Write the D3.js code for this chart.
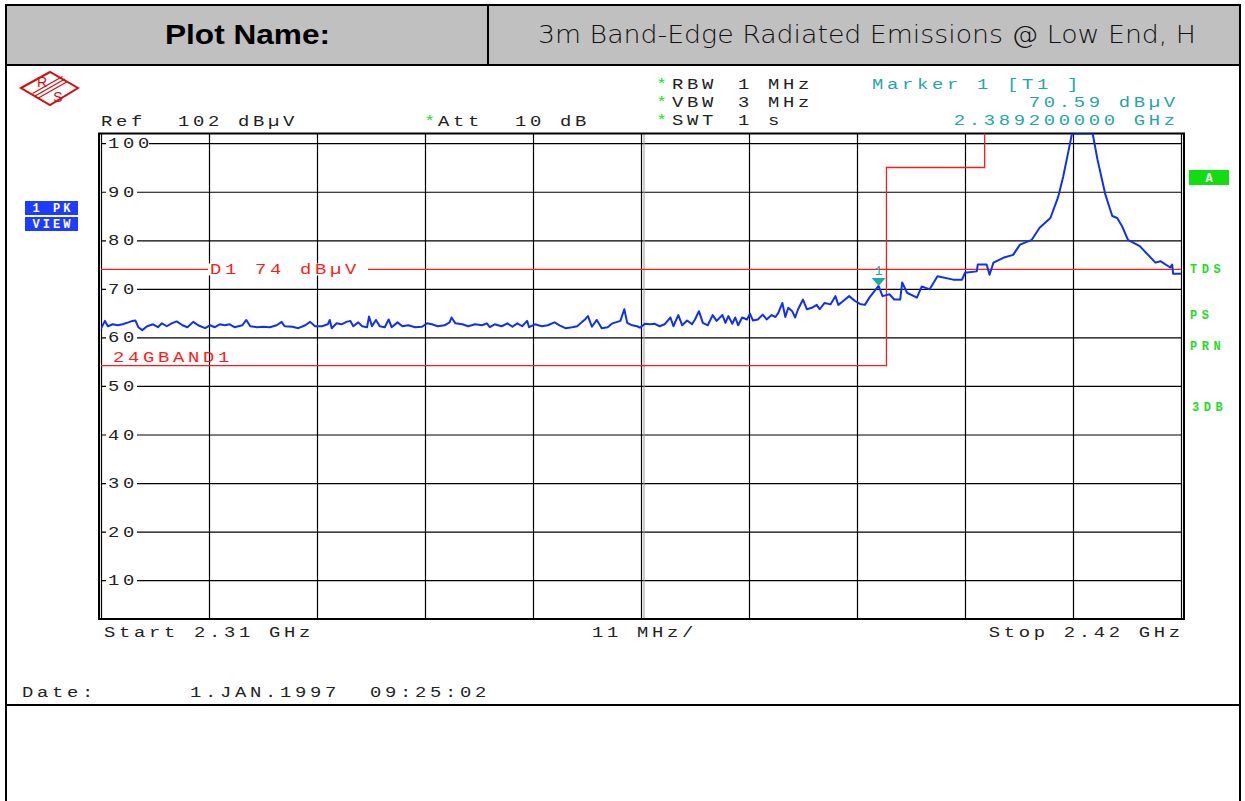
<!DOCTYPE html>
<html>
<head>
<meta charset="utf-8">
<script src="https://cdn.jsdelivr.net/npm/d3@7"></script>
<style>
  body { margin: 0; background: #fff; }
  .mono { font-family: "Liberation Mono", monospace; font-size: 14.5px; letter-spacing: 2.85px; }
</style>
</head>
<body>
<div id="chart"></div>
<script>
// Sweep readings (MHz, dBuV)
const freqMHz = [2310.0, 2310.4, 2310.7, 2311.2, 2311.7, 2312.2, 2312.8, 2313.2, 2313.5, 2313.8,
  2314.2, 2314.7, 2315.3, 2315.8, 2316.2, 2316.7, 2317.2, 2317.7, 2318.3, 2318.8,
  2319.4, 2319.9, 2320.6, 2321.1, 2321.6, 2322.1, 2322.6, 2323.1, 2323.6, 2324.4,
  2324.8, 2325.2, 2325.9, 2326.5, 2327.2, 2327.9, 2328.4, 2328.7, 2329.5, 2330.1,
  2330.8, 2331.3, 2331.8, 2332.5, 2333.1, 2333.3, 2333.5, 2334.0, 2334.5, 2335.0,
  2335.4, 2335.7, 2336.2, 2336.6, 2337.1, 2337.3, 2337.6, 2338.0, 2338.4, 2338.9,
  2339.3, 2339.6, 2340.2, 2340.7, 2341.3, 2342.0, 2342.7, 2343.2, 2343.7, 2344.3,
  2345.0, 2345.5, 2345.7, 2346.1, 2346.8, 2347.4, 2348.1, 2348.8, 2349.3, 2349.6,
  2350.1, 2350.8, 2351.4, 2351.9, 2352.4, 2352.9, 2353.4, 2353.6, 2354.2, 2354.9,
  2355.5, 2356.2, 2356.7, 2357.3, 2358.0, 2358.5, 2359.0, 2359.3, 2359.6, 2360.0,
  2360.5, 2361.0, 2361.6, 2362.1, 2362.9, 2363.3, 2363.6, 2364.1, 2364.6, 2364.9,
  2365.4, 2365.9, 2366.4, 2366.9, 2367.4, 2368.0, 2368.3, 2368.8, 2369.2, 2369.7,
  2370.2, 2370.5, 2370.9, 2371.3, 2371.8, 2372.3, 2372.7, 2373.3, 2373.6, 2373.9,
  2374.3, 2374.6, 2374.9, 2375.3, 2375.8, 2376.1, 2376.4, 2376.9, 2377.4, 2377.8,
  2378.3, 2378.7, 2379.0, 2379.4, 2379.7, 2380.0, 2380.4, 2380.7, 2381.0, 2381.5,
  2381.9, 2382.4, 2382.9, 2383.2, 2383.7, 2384.3, 2384.8, 2385.1, 2385.6, 2386.2,
  2386.8, 2387.3, 2387.8, 2388.3, 2389.2, 2389.6, 2390.3, 2390.8, 2391.4, 2391.6,
  2392.1, 2393.1, 2393.6, 2394.4, 2395.2, 2396.8, 2397.7, 2398.0, 2399.2, 2399.3,
  2400.2, 2400.5, 2400.9, 2401.9, 2402.9, 2403.6, 2404.8, 2405.6, 2406.7, 2407.5,
  2408.0, 2408.5, 2408.9, 2411.0, 2411.5, 2412.3, 2413.0, 2413.5, 2414.0, 2414.6,
  2415.8, 2417.4, 2417.9, 2418.9, 2419.1, 2419.2, 2420.0];
const levelDb = [61.8, 63.4, 62.3, 62.7, 62.5, 62.7, 63.1, 63.4, 63.5, 62.1,
  61.5, 62.3, 62.7, 62.1, 62.9, 62.3, 62.9, 63.3, 62.5, 62.1,
  63.2, 62.5, 61.9, 62.5, 62.1, 62.7, 62.5, 62.7, 62.1, 62.5,
  63.6, 62.3, 62.1, 62.2, 62.1, 62.5, 63.2, 62.3, 62.2, 61.9,
  62.5, 63.2, 62.3, 62.3, 62.7, 63.6, 61.9, 62.9, 62.7, 63.2,
  63.4, 62.3, 63.1, 62.3, 62.1, 64.3, 62.3, 63.6, 62.3, 62.1,
  63.7, 62.1, 63.1, 62.3, 62.5, 62.1, 62.2, 62.9, 62.7, 62.3,
  62.5, 63.1, 64.1, 62.9, 62.7, 62.3, 62.7, 62.5, 62.9, 62.1,
  62.7, 62.3, 62.9, 62.2, 62.9, 62.3, 63.4, 62.1, 62.7, 62.3,
  62.5, 63.1, 62.5, 61.9, 62.1, 62.3, 63.2, 63.7, 64.4, 62.2,
  63.6, 61.9, 62.1, 62.9, 63.4, 65.8, 63.0, 62.5, 62.3, 62.0,
  62.8, 62.7, 62.8, 62.3, 62.7, 64.1, 62.3, 64.6, 62.5, 63.5,
  62.7, 63.7, 65.4, 63.0, 62.5, 64.6, 63.4, 64.6, 63.0, 64.4,
  62.8, 64.1, 62.5, 64.1, 63.7, 64.9, 63.5, 63.7, 64.7, 63.7,
  64.6, 64.2, 65.1, 67.1, 64.2, 66.1, 65.4, 64.1, 65.8, 67.8,
  65.8, 66.1, 66.7, 65.8, 67.1, 66.8, 68.5, 66.7, 67.5, 68.5,
  67.5, 66.9, 66.7, 68.3, 70.6, 68.5, 68.9, 67.8, 67.8, 71.3,
  69.2, 68.2, 70.5, 69.9, 72.6, 71.9, 71.9, 73.3, 73.6, 75.0,
  75.0, 72.9, 75.4, 76.4, 77.0, 79.1, 80.1, 82.6, 84.6, 89.0,
  93.1, 98.0, 102, 102, 96.6, 89.4, 85.0, 84.6, 82.9, 80.1,
  78.8, 75.4, 75.7, 74.4, 75.0, 73.1, 73.1];

// Limit line 24GBAND1 and display line D1
const limitFreq = [2310, 2390, 2390, 2400, 2400];
const limitLevel = [54.2, 54.2, 95, 95, 103];
const displayLine = 74;

// Axis ticks
const freqTicks = [2310, 2321, 2332, 2343, 2354, 2365, 2376, 2387, 2398, 2409, 2420];
const levelTicks = [10, 20, 30, 40, 50, 60, 70, 80, 90, 100];

// Marker 1
const markerFreq = 2389.2;
const markerLevel = 70.59;

const width = 1245, height = 801;
const svg = d3.select("#chart").append("svg")
  .attr("width", width).attr("height", height)
  .style("display", "block");

// ---- report table frame ----
svg.append("rect").attr("x", 6).attr("y", 5).attr("width", 1234).attr("height", 60)
  .attr("fill", "#c0c0c0");
svg.append("rect").attr("x", 6).attr("y", 5).attr("width", 1234).attr("height", 820)
  .attr("fill", "none").attr("stroke", "#000").attr("stroke-width", 2);
svg.append("line").attr("x1", 6).attr("x2", 1240).attr("y1", 65).attr("y2", 65)
  .attr("stroke", "#000").attr("stroke-width", 2);
svg.append("line").attr("x1", 488).attr("x2", 488).attr("y1", 5).attr("y2", 65)
  .attr("stroke", "#000").attr("stroke-width", 2);
svg.append("line").attr("x1", 6).attr("x2", 1240).attr("y1", 705).attr("y2", 705)
  .attr("stroke", "#000").attr("stroke-width", 2);

svg.append("text").attr("x", 165).attr("y", 44)
  .style("font-family", "'Liberation Sans', Arial, sans-serif")
  .style("font-weight", "bold").style("font-size", "28px")
  .attr("textLength", 165).attr("lengthAdjust", "spacingAndGlyphs")
  .text("Plot Name:");
svg.append("text").attr("x", 538).attr("y", 43)
  .style("font-family", "'DejaVu Sans', sans-serif")
  .style("font-weight", "300").style("font-size", "25px").attr("fill", "#111")
  .attr("textLength", 658).attr("lengthAdjust", "spacingAndGlyphs")
  .text("3m Band-Edge Radiated Emissions @ Low End, H");

// ---- scales ----
const x = d3.scaleLinear().domain([2310, 2420]).range([101, 1181]);
const y = d3.scaleLinear().domain([2, 102]).range([619, 133.5]);

// analyzer screen font: wide monospace, stretched horizontally
function mono(px, py, str, color, anchor) {
  return svg.append("text").attr("class", "mono")
    .attr("transform", `translate(${anchor === "end" ? px + 3.7 : px},${py}) scale(1.3,1)`)
    .attr("fill", color || "#222")
    .attr("text-anchor", anchor || "start")
    .text(str);
}

// ---- R&S logo ----
const logo = svg.append("g").attr("stroke", "#d01010").attr("fill", "none");
logo.append("polygon").attr("points", "21,88 50,72 78,88 50,105").attr("stroke-width", 2);
[-2.5, 0, 2.5].forEach(o => {
  logo.append("line").attr("x1", 65 + o).attr("y1", 79 + o).attr("x2", 35 + o).attr("y2", 96 + o)
    .attr("stroke-width", 1.2);
});
svg.append("text").attr("x", 42).attr("y", 87).attr("text-anchor", "middle")
  .attr("fill", "#d01010").style("font-family", "'Liberation Sans', sans-serif").style("font-size", "14px").text("R");
svg.append("text").attr("x", 58).attr("y", 102).attr("text-anchor", "middle")
  .attr("fill", "#d01010").style("font-family", "'Liberation Sans', sans-serif").style("font-size", "14px").text("S");

// ---- instrument header texts ----
const green = "#22dd22", teal = "#22a6a6";
mono(101, 126, "Ref");
mono(178, 126, "102 dBµV");
mono(424, 126, "*", green);
mono(438, 126, "Att");
mono(515, 126, "10 dB");
[["RBW", "1 MHz", 89], ["VBW", "3 MHz", 107], ["SWT", "1 s", 125]].forEach(r => {
  mono(656, r[2], "*", green);
  mono(672, r[2], r[0]);
  mono(738, r[2], r[1]);
});
mono(872, 89, "Marker 1 [T1 ]", teal);
mono(1175, 107, "70.59 dBµV", teal, "end");
mono(1175, 125, "2.389200000 GHz", teal, "end");

// side annotations
function badge(bx, by, bw, bh, fill, str) {
  svg.append("rect").attr("x", bx).attr("y", by).attr("width", bw).attr("height", bh).attr("fill", fill);
  svg.append("text").attr("x", bx + bw / 2 + 1.5).attr("y", by + bh - 3).attr("text-anchor", "middle")
    .attr("fill", "#fff").style("font-family", "'Liberation Mono', monospace")
    .style("font-size", "12px").style("font-weight", "bold").style("letter-spacing", "3px")
    .text(str);
}
badge(25, 201, 53, 14, "#1e3cff", "1 PK");
badge(25, 217, 53, 14, "#1e3cff", "VIEW");
badge(1189, 170, 40, 15, "#11dd11", "A");
[["TDS", 273], ["PS", 319], ["PRN", 350], ["3DB", 411]].forEach(s => {
  svg.append("text").attr("x", s[0] === "3DB" ? 1192 : 1190).attr("y", s[1]).attr("fill", green)
    .style("font-family", "'Liberation Mono', monospace").style("font-size", "12px")
    .style("font-weight", "bold").style("letter-spacing", "4.5px").text(s[0]);
});

// ---- grid ----
const grid = svg.append("g");
grid.append("g")
  .attr("transform", `translate(0,${y(2)})`)
  .call(d3.axisBottom(x).tickValues(freqTicks).tickSize(-(y(2) - y(102))).tickFormat(""))
  .call(g => g.select(".domain").remove())
  .selectAll("line").attr("stroke", "#000").attr("stroke-width", 1.2);
grid.append("g")
  .attr("transform", `translate(${x(2310)},0)`)
  .call(d3.axisLeft(y).tickValues(levelTicks).tickSize(-(x(2420) - x(2310))).tickFormat(""))
  .call(g => g.select(".domain").remove())
  .selectAll("line").attr("stroke", "#000").attr("stroke-width", 1.2);
// doubled centre line
svg.append("line").attr("x1", x(2365) + 3).attr("x2", x(2365) + 3)
  .attr("y1", y(102)).attr("y2", y(2)).attr("stroke", "#999").attr("stroke-width", 1);
// outer frame
svg.append("rect").attr("x", 99).attr("y", y(102)).attr("width", x(2420) - 99 + 3)
  .attr("height", y(2) - y(102)).attr("fill", "none").attr("stroke", "#000").attr("stroke-width", 2);

// level labels on the grid
levelTicks.forEach(v => {
  const w = v === 100 ? 43 : 31;
  svg.append("rect").attr("x", 106).attr("y", y(v) - 6).attr("width", w).attr("height", 12).attr("fill", "#fff");
  mono(108, y(v) + 5, String(v));
});

// ---- limit & display lines ----
svg.append("clipPath").attr("id", "plotclip").append("rect")
  .attr("x", x(2310)).attr("y", y(102)).attr("width", x(2420) - x(2310)).attr("height", y(2) - y(102));

svg.append("path")
  .datum(limitFreq.map((f, i) => [f, limitLevel[i]]))
  .attr("clip-path", "url(#plotclip)")
  .attr("fill", "none").attr("stroke", "#ff1a1a").attr("stroke-width", 1.3)
  .attr("d", d3.line().x(d => x(d[0])).y(d => y(d[1])));
mono(113, 362, "24GBAND1", "#ff1a1a");

svg.append("line").attr("x1", x(2310)).attr("x2", x(2420))
  .attr("y1", y(displayLine)).attr("y2", y(displayLine))
  .attr("stroke", "#ff1a1a").attr("stroke-width", 1.3);
svg.append("rect").attr("x", 208).attr("y", y(displayLine) - 6).attr("width", 160).attr("height", 12).attr("fill", "#fff");
mono(210, y(displayLine) + 5, "D1 74 dBµV", "#ff1a1a");

// ---- trace ----
svg.append("path")
  .datum(freqMHz.map((f, i) => [f, levelDb[i]]))
  .attr("clip-path", "url(#plotclip)")
  .attr("fill", "none").attr("stroke", "#1030f0").attr("stroke-width", 2)
  .attr("stroke-linejoin", "round")
  .attr("d", d3.line().x(d => x(d[0])).y(d => y(d[1])));

// ---- marker ----
const mx = x(markerFreq), my = y(markerLevel);
svg.append("polygon")
  .attr("points", `${mx - 7},${my - 8} ${mx + 7},${my - 8} ${mx},${my}`)
  .attr("fill", teal);
svg.append("text").attr("x", mx).attr("y", my - 11).attr("text-anchor", "middle")
  .attr("fill", teal).style("font-family", "'Liberation Mono', monospace").style("font-size", "13px")
  .text("1");

// ---- footer texts ----
mono(104, 637, "Start 2.31 GHz");
mono(592, 637, "11 MHz/");
mono(1180, 637, "Stop 2.42 GHz", null, "end");
mono(22, 697, "Date:");
mono(190, 697, "1.JAN.1997");
mono(370, 697, "09:25:02");
</script>
</body>
</html>
